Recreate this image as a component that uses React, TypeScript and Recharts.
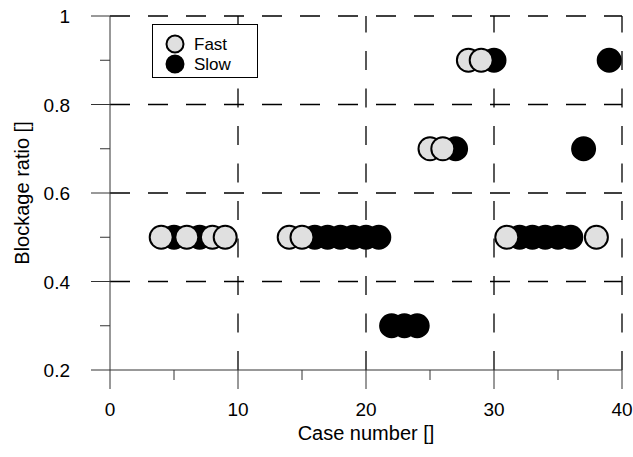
import { ScatterChart, Scatter, XAxis, YAxis, ReferenceLine } from 'recharts';

// case number / blockage ratio
const fastCase = [4, 6, 8, 9, 14, 15, 25, 26, 28, 29, 31, 38];
const fastRatio = [0.5, 0.5, 0.5, 0.5, 0.5, 0.5, 0.7, 0.7, 0.9, 0.9, 0.5, 0.5];
const slowCase = [5, 7, 16, 17, 18, 19, 20, 21, 22, 23, 24, 27, 30, 32, 33, 34, 35, 36, 37, 39];
const slowRatio = [
  0.5, 0.5, 0.5, 0.5, 0.5, 0.5, 0.5, 0.5, 0.3, 0.3, 0.3, 0.7, 0.9, 0.5, 0.5, 0.5, 0.5, 0.5, 0.7,
  0.9,
];

const xTicks = [0, 5, 10, 15, 20, 25, 30, 35, 40];
const xGrid = [10, 20, 30, 40];
const yTicks = [0.2, 0.3, 0.4, 0.5, 0.6, 0.7, 0.8, 0.9, 1];
const yGrid = [0.4, 0.6, 0.8, 1];

const FONT = '"Liberation Sans", Arial, sans-serif';
const AXIS = '#333';

const fastData = fastCase.map((x, i) => ({ x, y: fastRatio[i] }));
const slowData = slowCase.map((x, i) => ({ x, y: slowRatio[i] }));

function isMajorY(v: number) {
  return Math.abs(v * 5 - Math.round(v * 5)) < 1e-6;
}

function XTick(props: any) {
  const { x, y, payload } = props;
  const major = payload.value % 10 === 0;
  return (
    <g>
      <line x1={x} x2={x} y1={y} y2={y + (major ? 19 : 10)} stroke={AXIS} />
      {major && (
        <text x={x} y={y + 46} textAnchor="middle" fontSize={19} fontFamily={FONT} fill="#000">
          {payload.value}
        </text>
      )}
    </g>
  );
}

function YTick(props: any) {
  const { x, y, payload } = props;
  const major = isMajorY(payload.value);
  return (
    <g>
      <line x1={x - (major ? 19 : 10)} x2={x} y1={y} y2={y} stroke={AXIS} />
      {major && (
        <text x={x - 40} y={y + 7} textAnchor="end" fontSize={19} fontFamily={FONT} fill="#000">
          {String(Math.round(payload.value * 10) / 10)}
        </text>
      )}
    </g>
  );
}

const fastDot = (p: any) => (
  <circle cx={p.cx} cy={p.cy} r={11.5} fill="#e0e0e0" stroke="#000" strokeWidth={2} />
);
const slowDot = (p: any) => (
  <circle cx={p.cx} cy={p.cy} r={11.5} fill="#000" stroke="#000" strokeWidth={2} />
);

export default function App() {
  return (
    <div style={{ position: 'absolute', left: 0, top: 0, width: 633, height: 457, background: '#fff' }}>
      <ScatterChart width={633} height={457} margin={{ top: 16, right: 11, left: 0, bottom: 0 }}>
        <XAxis
          type="number"
          dataKey="x"
          domain={[0, 40]}
          ticks={xTicks}
          height={87}
          tickSize={0}
          tickMargin={0}
          tickLine={false}
          tick={<XTick />}
          axisLine={{ stroke: AXIS }}
          label={{
            content: () => (
              <text x={366} y={440} textAnchor="middle" fontSize={20} fontFamily={FONT} fill="#000">
                Case number []
              </text>
            ),
          }}
        />
        <YAxis
          type="number"
          dataKey="y"
          domain={[0.2, 1]}
          ticks={yTicks}
          width={110}
          tickSize={0}
          tickMargin={0}
          tickLine={false}
          tick={<YTick />}
          axisLine={{ stroke: AXIS }}
          label={{
            content: () => (
              <text
                transform="translate(29,193) rotate(-90)"
                textAnchor="middle"
                fontSize={20}
                fontFamily={FONT}
                fill="#000"
              >
                Blockage ratio []
              </text>
            ),
          }}
        />
        {yGrid.map((v) => (
          <ReferenceLine key={'h' + v} y={v} stroke="#000" strokeWidth={1.3} strokeDasharray="20 18" />
        ))}
        {xGrid.map((v) => (
          <ReferenceLine
            key={'v' + v}
            segment={[
              { x: v, y: 0.2 },
              { x: v, y: 1 },
            ]}
            stroke="#000"
            strokeWidth={1.3}
            strokeDasharray="19 18.5"
          />
        ))}
        <Scatter name="Slow" data={slowData} shape={slowDot} isAnimationActive={false} />
        <Scatter name="Fast" data={fastData} shape={fastDot} isAnimationActive={false} />
      </ScatterChart>
      <div
        style={{
          position: 'absolute',
          left: 152,
          top: 24,
          width: 104,
          height: 52,
          border: '1px solid #000',
          background: '#fff',
        }}
      >
        <svg width={104} height={52}>
          <circle cx={22} cy={19} r={8.5} fill="#e0e0e0" stroke="#000" strokeWidth={2} />
          <text x={41} y={25} fontSize={17} fontFamily={FONT} fill="#000">
            Fast
          </text>
          <circle cx={22} cy={39} r={8.5} fill="#000" stroke="#000" strokeWidth={2} />
          <text x={41} y={45} fontSize={17} fontFamily={FONT} fill="#000">
            Slow
          </text>
        </svg>
      </div>
    </div>
  );
}
